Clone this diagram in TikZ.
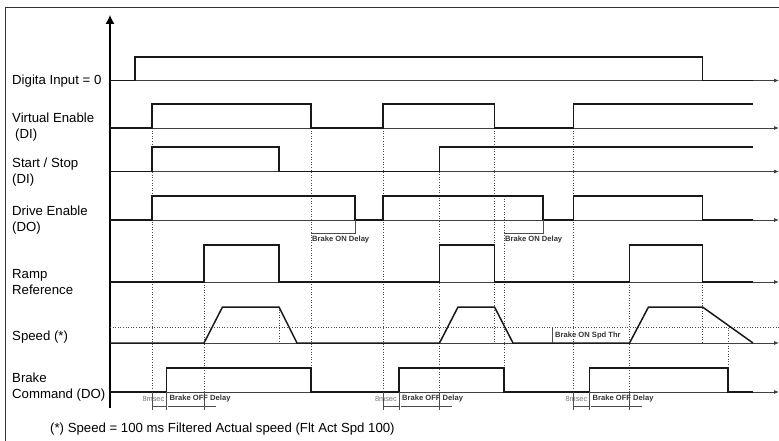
\documentclass[tikz,border=0pt]{standalone}
\usepackage{fontspec}
\setmainfont{Liberation Sans}
\usetikzlibrary{arrows.meta, positioning, calc}
\tikzstyle{signal} = [line width=1.5pt, black!90, line join=miter]
\tikzstyle{axis} = [line width=0.8pt, black!75, -{Latex[length=5pt,width=4pt]}]

\begin{document}
\begin{tikzpicture}[
	x=1pt, y=-1pt,
	every node/.style={font=\fontsize{13.2}{16}\selectfont, inner sep=0pt},
	rowlabel/.style={anchor=west, align=left},
	guide/.style={line width=0.7pt, black!70, dash pattern=on 1pt off 1.6pt},
	tick/.style={line width=0.6pt, black!70},
	delay/.style={font=\fontsize{7.6}{9}\selectfont\bfseries, text=black!80, anchor=west},
	msec/.style={font=\fontsize{7.4}{9}\selectfont, text=black!55, anchor=east}
]
\useasboundingbox (0,0) rectangle (779,441);

% Frame and time axes
\draw[line width=0.8pt, black!80] (5,441) -- (5,7) -- (779,7);
\coordinate (origin) at (110,408);
\coordinate (ytip) at (110,15);
\draw[line width=1.1pt, -{Latex[length=9pt,width=9pt]}] (origin) -- (ytip);
\draw[guide] (110,327.5) -- (779,327.5);

% Dotted guides between the signals
\foreach \x/\a/\b in {152/128/392, 311/128/368, 279/307/343, 204/282/392, 383/128/392,
	439.5/171.5/392, 494.5/128/343, 504/196/368, 573.5/128/392, 629.5/282/392,
	702.5/282/343, 728/327.5/368}
	\draw[guide] (\x,\a) -- (\x,\b);

\foreach \name/\y in {di/80.5, ve/128, ss/171.5, de/220, rr/282, sp/343, bc/392} {
	\coordinate (\name0) at (110,\y);
	\coordinate (\name1) at (779,\y);
	\draw[axis] (\name0) -- (\name1);
}

% Row labels
\node[rowlabel] (lblDI) at (12,81) {Digita Input = 0};
\node[rowlabel] (lblVE) at (12,127.5) {Virtual Enable\\\hspace{3pt}(DI)};
\node[rowlabel] (lblSS) at (12,172) {Start / Stop\\(DI)};
\node[rowlabel] (lblDE) at (12,220) {Drive Enable\\(DO)};
\node[rowlabel] (lblRR) at (12,282.5) {Ramp\\Reference};
\node[rowlabel] (lblSP) at (12,337) {Speed (*)};
\node[rowlabel] (lblBC) at (12,387) {Brake\\Command (DO)};

% Signals
\draw[signal] (110,80.5) -- (135,80.5) -- (135,57) -- (702.5,57) -- (702.5,80.5) -- (753,80.5);
\draw[signal] (110,128) -- (152,128) -- (152,104) -- (311,104) -- (311,128) -- (383,128) -- (383,104)
	-- (494.5,104) -- (494.5,128) -- (573.5,128) -- (573.5,104) -- (753,104);
\draw[signal] (110,171.5) -- (152,171.5) -- (152,147) -- (279,147) -- (279,171.5) -- (439.5,171.5)
	-- (439.5,147) -- (753,147);
\draw[signal] (110,220) -- (152,220) -- (152,196) -- (355,196) -- (355,220) -- (383,220) -- (383,196)
	-- (543,196) -- (543,220) -- (573.5,220) -- (573.5,196) -- (702.5,196) -- (702.5,220) -- (753,220);
\draw[signal] (110,282) -- (204,282) -- (204,245) -- (279,245) -- (279,282) -- (439.5,282) -- (439.5,245)
	-- (494.5,245) -- (494.5,282) -- (629.5,282) -- (629.5,245) -- (702.5,245) -- (702.5,282) -- (753,282);
\draw[signal] (110,343) -- (204,343) -- (222.5,307) -- (279,307) -- (297,343) -- (439.5,343) -- (458,307)
	-- (494.5,307) -- (513,343) -- (629.5,343) -- (648.5,307) -- (702.5,307) -- (753,343);
\draw[signal] (110,392) -- (166.5,392) -- (166.5,368) -- (311,368) -- (311,392) -- (399,392) -- (399,368)
	-- (504,368) -- (504,392) -- (589.5,392) -- (589.5,368) -- (728,368) -- (728,392) -- (753,392);

% Brake delays
\draw[tick] (311,233) -- (355,233) -- (355,220);
\node[delay] (ondelay1) at (312,239.5) {Brake ON Delay};
\draw[tick] (504,233) -- (543,233) -- (543,220);
\node[delay] (ondelay2) at (505,239.5) {Brake ON Delay};
\draw[tick] (552,327.5) -- (552,343);
\node[delay] (spdthr) at (555,335.5) {Brake ON Spd Thr};

\foreach \a/\b/\c [count=\i] in {152/166.5/204, 383/399/439.5, 573.5/589.5/629.5} {
	\draw[tick] (\a,392) -- (\a,410) (\b,392) -- (\b,410) (\c,392) -- (\c,410);
	\draw[tick] (\a,406.5) -- (\b,406.5) (\b+1.5,406.5) -- (\c+12,406.5);
	\node[msec] (msec\i) at (\b-2,399) {8msec};
	\node[delay] (offdelay\i) at (\b+3,399) {Brake OFF Delay};
}

% Footnote
\node[anchor=west] (note) at (50,429) {(*) Speed = 100 ms Filtered Actual speed (Flt Act Spd 100)};

\end{tikzpicture}
\end{document}
